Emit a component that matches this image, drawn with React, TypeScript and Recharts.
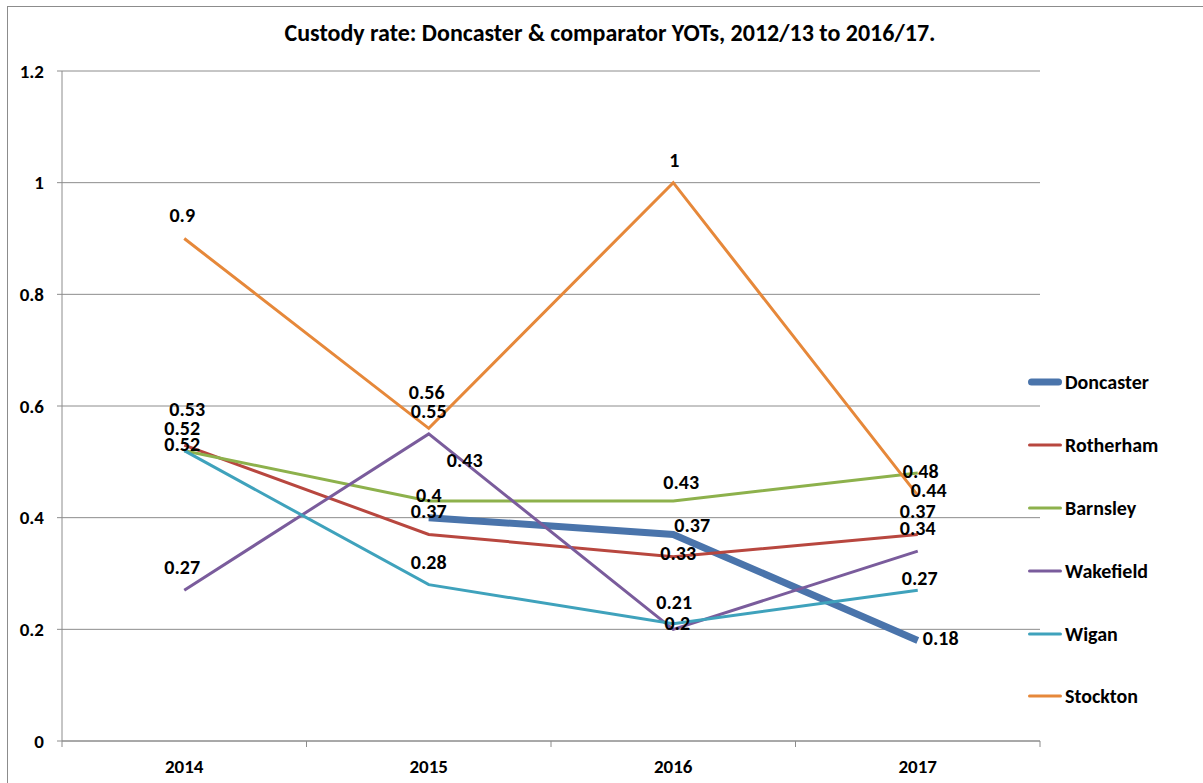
import React from 'react';
import { LineChart, Line, XAxis, YAxis, CartesianGrid, Legend } from 'recharts';

const TITLE = 'Custody rate: Doncaster & comparator YOTs, 2012/13 to 2016/17.';
const YEARS = ['2014', '2015', '2016', '2017'];
const Y_TICKS = [0, 0.2, 0.4, 0.6, 0.8, 1, 1.2];

const SERIES_NAMES = ['Doncaster', 'Rotherham', 'Barnsley', 'Wakefield', 'Wigan', 'Stockton'];
const DONCASTER = [null, 0.4, 0.37, 0.18];
const ROTHERHAM = [0.53, 0.37, 0.33, 0.37];
const BARNSLEY = [0.52, 0.43, 0.43, 0.48];
const WAKEFIELD = [0.27, 0.55, 0.2, 0.34];
const WIGAN = [0.52, 0.28, 0.21, 0.27];
const STOCKTON = [0.9, 0.56, 1, 0.44];

const SERIES_VALUES = [DONCASTER, ROTHERHAM, BARNSLEY, WAKEFIELD, WIGAN, STOCKTON];

// styling
const COLORS: Record<string, string> = {
  Doncaster: '#4A74AB',
  Rotherham: '#B8473F',
  Barnsley: '#8DB14C',
  Wakefield: '#7A5C9C',
  Wigan: '#3FA2BC',
  Stockton: '#E6883A',
};
const WIDTHS: Record<string, number> = {
  Doncaster: 7,
  Rotherham: 3,
  Barnsley: 3,
  Wakefield: 3,
  Wigan: 3,
  Stockton: 3,
};
// label center offsets relative to each point (style only)
const LABEL_OFFSETS: Record<string, [number, number][]> = {
  Doncaster: [[0, 0], [0, -23], [19, -9], [23, -3]],
  Rotherham: [[3, -36], [0, -23], [5, -4], [0, -23]],
  Barnsley: [[-2, -23], [36, -41], [8, -19], [3, -2]],
  Wakefield: [[-2, -23], [0, -23], [4, -6], [0, -23]],
  Wigan: [[-2, -7], [0, -23], [1, -22], [2, -12]],
  Stockton: [[-2, -24], [-2, -36], [1, -23], [11, -5]],
};

const FONT = 'Carlito, Lato, "Open Sans", sans-serif';
const HALF_BAND = 122.25;

const data = YEARS.map((year, i) => {
  const row: Record<string, any> = { year };
  SERIES_NAMES.forEach((name, s) => {
    row[name] = SERIES_VALUES[s][i];
  });
  return row;
});

const makeLabel = (name: string) => (props: any) => {
  const { x, y, value, index } = props;
  if (value === null || value === undefined) return null;
  const off = LABEL_OFFSETS[name][index] || [0, -23];
  return (
    <text
      key={`${name}-${index}`}
      x={x + off[0]}
      y={y + off[1]}
      textAnchor="middle"
      dominantBaseline="central"
      fontFamily={FONT}
      fontWeight={700}
      fontSize={20}
      fill="#000"
    >
      {String(value)}
    </text>
  );
};

const XTick = (props: any) => {
  const { x, y, payload, index } = props;
  const isLast = index === YEARS.length - 1;
  return (
    <g>
      <line x1={x - HALF_BAND} x2={x - HALF_BAND} y1={y} y2={y + 6} stroke="#8c8c8c" />
      {isLast && <line x1={x + HALF_BAND} x2={x + HALF_BAND} y1={y} y2={y + 6} stroke="#8c8c8c" />}
      <text
        x={x}
        y={y + 25}
        textAnchor="middle"
        dominantBaseline="central"
        fontFamily={FONT}
        fontWeight={700}
        fontSize={19}
        fill="#000"
      >
        {payload.value}
      </text>
    </g>
  );
};

const LegendContent = () => (
  <div style={{ fontFamily: FONT, fontWeight: 700, fontSize: 20, color: '#000' }}>
    {SERIES_NAMES.map((name) => (
      <div key={name} style={{ display: 'flex', alignItems: 'center', height: 62.8 }}>
        <svg width={36} height={10} style={{ display: 'block' }}>
          <line
            x1={WIDTHS[name] / 2 + 1}
            x2={35 - WIDTHS[name] / 2}
            y1={5}
            y2={5}
            stroke={COLORS[name]}
            strokeWidth={WIDTHS[name] > 3 ? 7 : 3}
            strokeLinecap="round"
          />
        </svg>
        <span style={{ marginLeft: 2 }}>{name}</span>
      </div>
    ))}
  </div>
);

export default function App() {
  return (
    <div style={{ position: 'absolute', left: 0, top: 0, width: 1203, height: 783, background: '#fff', overflow: 'hidden' }}>
      <div
        style={{
          position: 'absolute',
          left: 7,
          top: 6,
          width: 1205,
          height: 790,
          border: '1px solid #8c8c8c',
          boxSizing: 'border-box',
        }}
      />
      <div
        style={{
          position: 'absolute',
          left: 0,
          width: 1220,
          top: 19,
          textAlign: 'center',
          fontFamily: FONT,
          fontWeight: 700,
          fontSize: 24,
          lineHeight: '28px',
          color: '#000',
        }}
      >
        {TITLE}
      </div>
      <div style={{ position: 'absolute', left: 0, top: 0 }}>
        <LineChart width={1203} height={783} data={data} margin={{ top: 71, right: 163, left: 12, bottom: 12 }}>
          <CartesianGrid vertical={false} stroke="#8c8c8c" strokeWidth={1} />
          <XAxis
            dataKey="year"
            height={30}
            padding={{ left: HALF_BAND, right: HALF_BAND }}
            axisLine={{ stroke: '#8c8c8c' }}
            tickLine={false}
            tickSize={0}
            tickMargin={0}
            tick={<XTick />}
            interval={0}
          />
          <YAxis
            width={50}
            domain={[0, 1.2]}
            ticks={Y_TICKS}
            axisLine={{ stroke: '#8c8c8c' }}
            tickLine={{ stroke: '#8c8c8c' }}
            tickSize={5}
            tickMargin={13}
            tick={{ fontFamily: FONT, fontWeight: 700, fontSize: 19, fill: '#000' }}
            tickFormatter={(v: number) => String(Math.round(v * 10) / 10)}
          />
          <Legend
            layout="vertical"
            align="center"
            verticalAlign="middle"
            content={<LegendContent />}
            wrapperStyle={{ position: 'absolute', left: 1027, top: 351, width: 176 }}
          />
          {SERIES_NAMES.map((name) => (
            <Line
              key={name}
              type="linear"
              dataKey={name}
              name={name}
              stroke={COLORS[name]}
              strokeWidth={WIDTHS[name]}
              dot={false}
              activeDot={false}
              connectNulls={false}
              isAnimationActive={false}
              label={makeLabel(name)}
            />
          ))}
        </LineChart>
      </div>
    </div>
  );
}
